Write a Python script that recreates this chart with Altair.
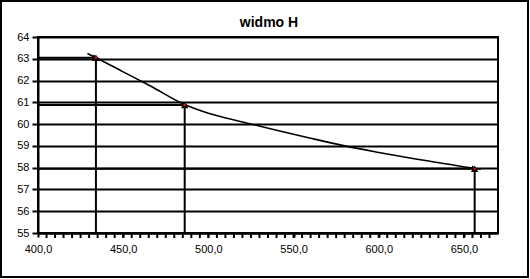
import altair as alt
import pandas as pd

# curve
curve_x = [429, 434, 450, 466, 486, 500, 520, 540, 560, 580, 600, 620, 640, 656, 660]
curve_y = [63.24, 63.05, 62.4, 61.75, 60.9, 60.5, 60.1, 59.72, 59.35, 59.0, 58.7, 58.42, 58.17, 57.97, 57.93]

# hydrogen lines (markers with arrows)
line_x = [434.0, 486.1, 656.3]
line_y = [63.05, 60.88, 57.95]

y_ticks = [55, 56, 57, 58, 59, 60, 61, 62, 63, 64]
x_labels = [400, 450, 500, 550, 600, 650]
x_minor = list(range(405, 670, 5))
x_min, x_max = 400, 670
y_min, y_max = 55, 64
title_text = "widmo H"

FONT = "Liberation Sans"

curve = pd.DataFrame({"x": curve_x, "y": curve_y})
pts = pd.DataFrame({"x": line_x, "y": line_y, "x0": [x_min] * 3, "y0": [y_min] * 3})
minor = pd.DataFrame({"x": x_minor})

xs = alt.Scale(domain=[x_min, x_max], nice=False, zero=False)
ys = alt.Scale(domain=[y_min, y_max], nice=False, zero=False)

x_axis = alt.Axis(
    values=x_labels,
    labelExpr="replace(format(datum.value, '.1f'), '.', ',')",
    grid=False, ticks=True, tickSize=4, tickWidth=2, tickColor="black",
    domainColor="black", domainWidth=2,
    labelFont=FONT, labelFontSize=11, labelColor="black", labelPadding=6,
    labelOverlap=False, labelFlush=False, title=None,
)
y_axis = alt.Axis(
    values=y_ticks, grid=True, gridColor="black", gridWidth=2, gridOpacity=1,
    tickSize=6, tickWidth=2, tickColor="black", domainColor="black", domainWidth=2,
    labelFont=FONT, labelFontSize=11, labelColor="black", labelPadding=3,
    labelOverlap=False, title=None,
)

def X(f):
    return alt.X(f, type="quantitative", scale=xs, axis=x_axis)

def Y(f):
    return alt.Y(f, type="quantitative", scale=ys, axis=y_axis)

base_line = alt.Chart(curve).mark_line(color="black", strokeWidth=1.6, interpolate="monotone").encode(
    x=X("x"), y=Y("y"),
)
vrules = alt.Chart(pts).mark_rule(color="black", strokeWidth=2).encode(
    x=X("x"), y=Y("y0"), y2="y"
)
hrules = alt.Chart(pts).mark_rule(color="black", strokeWidth=2).encode(
    x=X("x0"), x2="x", y=Y("y")
)
tri_up = alt.Chart(pts).mark_point(shape="triangle-up", filled=True, color="black", size=55, opacity=1).encode(
    x=X("x"), y=Y("y")
)
tri_right = alt.Chart(pts).mark_point(shape="triangle-right", filled=True, color="black", size=40, opacity=1).encode(
    x=X("x"), y=Y("y")
)
red = alt.Chart(pts).mark_point(shape="square", filled=True, color="red", size=5, opacity=1).encode(
    x=X("x"), y=Y("y")
)
minor_ticks = alt.Chart(minor).mark_rule(color="black", strokeWidth=2, clip=False).encode(
    x=X("x"), y=alt.value(197), y2=alt.value(201)
)

title = alt.Chart(pd.DataFrame({"t": [title_text]})).mark_text(
    font=FONT, fontSize=14, fontWeight="bold", color="black", align="center", baseline="alphabetic", clip=False
).encode(text="t:N", x=alt.value(231), y=alt.value(-10))

frame = alt.Chart(pd.DataFrame({"a": [0]})).mark_rect(fill=None, stroke="black", strokeWidth=2, clip=False).encode(
    x=alt.value(-37), x2=alt.value(490), y=alt.value(-36), y2=alt.value(240)
)

chart = alt.layer(base_line, hrules, vrules, tri_right, tri_up, red, minor_ticks, title, frame).properties(
    width=460, height=196,
    autosize=alt.AutoSizeParams(type="none"),
    padding={"left": 38, "top": 37, "right": 32, "bottom": 46},
    background="white",
).configure_view(stroke="black", strokeWidth=2)

chart.save("out.html", embed_options={"renderer": "svg", "actions": False})
